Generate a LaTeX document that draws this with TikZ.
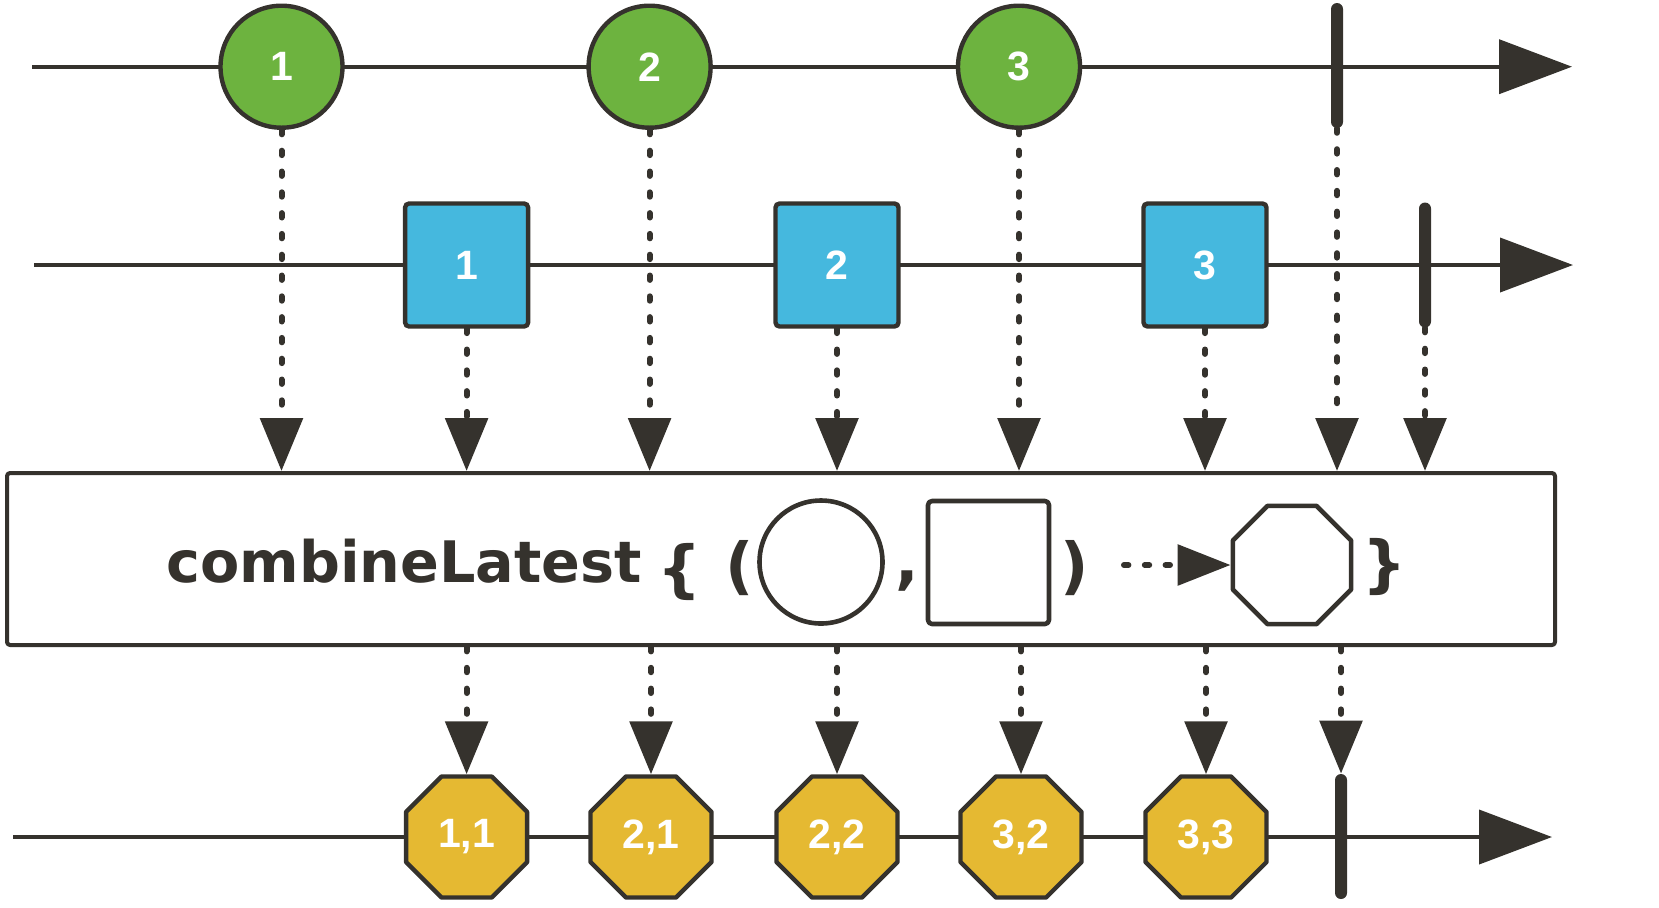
\documentclass[tikz,border=0pt]{standalone}
\usepackage{fontspec}
\setmainfont{Liberation Sans}
\newfontfamily\opfont{DejaVu Sans}
\usetikzlibrary{arrows.meta,shapes.geometric}
\definecolor{ink}{HTML}{35322D}
\definecolor{marblegreen}{HTML}{6DB33F}
\definecolor{tileblue}{HTML}{45B8DE}
\definecolor{resultgold}{HTML}{E5B932}
\begin{document}
\begin{tikzpicture}[x=0.5pt, y=-0.5pt,
	timeline/.style={color=ink, line width=2pt, -{Triangle[length=36.5pt, width=27pt]}},
	marble/.style={shape=circle, draw=ink, line width=2.2pt, fill=marblegreen, minimum size=61pt, inner sep=0pt, text=white, font=\fontsize{20.5}{21}\selectfont\bfseries},
	tile/.style={shape=rectangle, rounded corners=2pt, draw=ink, line width=2.2pt, fill=tileblue, minimum size=61.5pt, inner sep=0pt, text=white, font=\fontsize{20.5}{21}\selectfont\bfseries},
	result/.style={regular polygon, regular polygon sides=8, draw=ink, line width=2.2pt, line join=round, fill=resultgold, minimum size=65.5pt, inner sep=0pt, text=white, font=\fontsize{20.5}{21}\selectfont\bfseries},
	stopbar/.style={shape=rectangle, rounded corners=3pt, fill=ink, minimum width=6pt, minimum height=62.5pt, inner sep=0pt},
	outline/.style={draw=ink, line width=2.3pt, line join=round, inner sep=0pt},
	opglyph/.style={text=ink, inner sep=0pt, font=\opfont\bfseries\fontsize{31}{31}\selectfont},
	dotarrow/.style={color=ink, line width=3pt, line cap=round, dash pattern=on 2.2pt off 8.2pt, -{Triangle[length=26.5pt, width=21pt]}},
]
	\useasboundingbox (0,0) rectangle (1659,907);

	\coordinate (t1) at (32,66.7);
	\coordinate (t1end) at (1572,66.7);
	\coordinate (t2) at (34,265);
	\coordinate (t2end) at (1573,265);
	\coordinate (t3) at (13,837);
	\coordinate (t3end) at (1552,837);
	\path (t1) edge [timeline] (t1end);
	\path (t2) edge [timeline] (t2end);
	\path (t3) edge [timeline] (t3end);

	\node[marble]  (c1)  at (281.5,66.7) {1};
	\node[marble]  (c2)  at (649.6,66.7) {2};
	\node[marble]  (c3)  at (1019,66.7)  {3};
	\node[stopbar] (tb1) at (1337,65.5)  {};

	\node[tile]    (s1)  at (466.6,265)  {1};
	\node[tile]    (s2)  at (837,265)    {2};
	\node[tile]    (s3)  at (1205,265)   {3};
	\node[stopbar] (tb2) at (1425,265)   {};

	\node[outline, line width=2pt, shape=rectangle, rounded corners=1.5pt, minimum width=774pt, minimum height=86pt] (op) at (781,559) {};
	\node[text=ink, inner sep=0pt, anchor=base west, font=\opfont\bfseries\fontsize{28.6}{29}\selectfont] (name) at (166,582) {combineLatest};
	\node[opglyph] (lbrace) at (680,572)  {\{};
	\node[opglyph] (lpar)   at (740,568)  {(};
	\node[outline, shape=circle, minimum size=61.5pt] (icirc) at (821,562) {};
	\node[opglyph, anchor=base] (comma) at (907,582) {,};
	\node[outline, shape=rectangle, rounded corners=2pt, minimum width=60.5pt, minimum height=61.5pt] (isq) at (988.5,562.5) {};
	\node[opglyph] (rpar)   at (1075,568) {)};
	\coordinate (dots) at (1124,565);
	\node[outline, regular polygon, regular polygon sides=8, minimum size=64pt] (ioct) at (1292,565) {};
	\node[opglyph] (rbrace) at (1385,567) {\}};
	\path (dots) edge [dotarrow, -{Triangle[length=26.5pt, width=20pt]}] (ioct);

	\node[result]  (o11) at (466.6,837) {1,1};
	\node[result]  (o21) at (651,837)   {2,1};
	\node[result]  (o22) at (837,837)   {2,2};
	\node[result]  (o32) at (1021,837)  {3,2};
	\node[result]  (o33) at (1206,837)  {3,3};
	\node[stopbar] (tb3) at (1341,836.5) {};

	\path (c1)  edge [dotarrow] (c1 |- op.north);
	\path (s1)  edge [dotarrow] (s1 |- op.north);
	\path (c2)  edge [dotarrow] (c2 |- op.north);
	\path (s2)  edge [dotarrow] (s2 |- op.north);
	\path (c3)  edge [dotarrow] (c3 |- op.north);
	\path (s3)  edge [dotarrow] (s3 |- op.north);
	\path (tb1) edge [dotarrow] (tb1 |- op.north);
	\path (tb2) edge [dotarrow] (tb2 |- op.north);

	\path (o11 |- op.south) edge [dotarrow] (o11);
	\path (o21 |- op.south) edge [dotarrow] (o21);
	\path (o22 |- op.south) edge [dotarrow] (o22);
	\path (o32 |- op.south) edge [dotarrow] (o32);
	\path (o33 |- op.south) edge [dotarrow] (o33);
	\path (tb3 |- op.south) edge [dotarrow] (tb3);
\end{tikzpicture}
\end{document}
